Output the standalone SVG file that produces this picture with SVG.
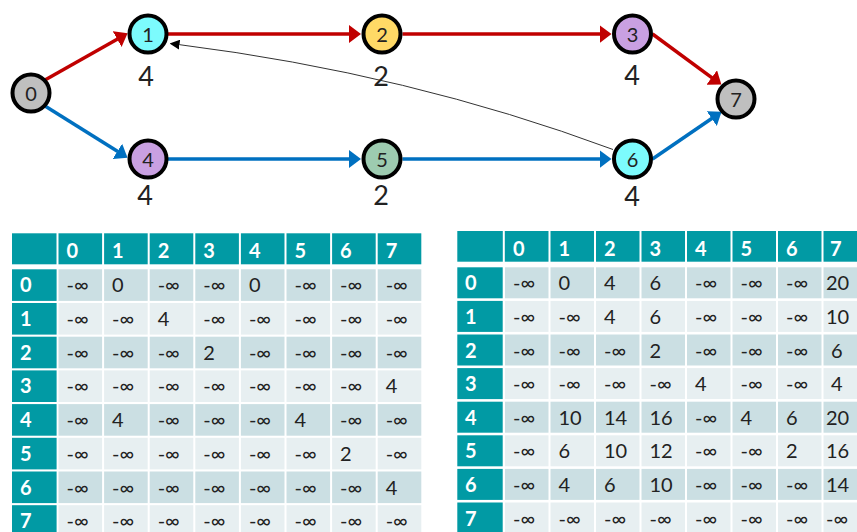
<svg xmlns="http://www.w3.org/2000/svg" width="857" height="532" viewBox="0 0 857 532">
<style>
.nd{stroke:#000;stroke-width:4}
.nl{font-family:Lato,"Liberation Sans",sans-serif;font-size:20px;fill:#222;text-anchor:middle}
.wl{font-family:Lato,"Liberation Sans",sans-serif;font-size:27px;fill:#222;text-anchor:middle}
.red{stroke:#C00000;stroke-width:3.5;fill:none}
.blue{stroke:#0070C0;stroke-width:3.5;fill:none}
.thin{stroke:#333;stroke-width:1;fill:none}
.teal{fill:#019AA4}
.ev{fill:#CBDFE3}
.od{fill:#E7EFF1}
.gap{stroke:#fff;stroke-width:2}
.h{font-family:Lato,"Liberation Sans",sans-serif;font-size:20px;font-weight:bold;fill:#fff}
.d{font-family:Lato,"Liberation Sans",sans-serif;font-size:20px;fill:#222}
</style>
<defs>
<marker id="ar" markerUnits="userSpaceOnUse" viewBox="0 0 12 18" markerWidth="12" markerHeight="18" refX="0.5" refY="9" orient="auto"><path d="M0,0 L12,9 L0,18 z" fill="#C00000"/></marker>
<marker id="ab" markerUnits="userSpaceOnUse" viewBox="0 0 12 18" markerWidth="12" markerHeight="18" refX="0.5" refY="9" orient="auto"><path d="M0,0 L12,9 L0,18 z" fill="#0070C0"/></marker>
<marker id="ak" markerUnits="userSpaceOnUse" viewBox="0 0 10 10" markerWidth="10" markerHeight="10" refX="0.5" refY="5" orient="auto"><path d="M0,0 L10,5 L0,10 z" fill="#000"/></marker>
</defs>
<rect width="857" height="532" fill="#fff"/>
<g id="connectors">
<path class="red" d="M45,80 L117.6,38.9" marker-end="url(#ar)"/>
<path class="red" d="M166.5,34 L349.5,34" marker-end="url(#ar)"/>
<path class="red" d="M402.5,34 L600,34" marker-end="url(#ar)"/>
<path class="red" d="M652.5,34 L712.1,77.8" marker-end="url(#ar)"/>
<path class="blue" d="M45,106 L117.8,151.6" marker-end="url(#ab)"/>
<path class="blue" d="M166.5,159 L349.5,159" marker-end="url(#ab)"/>
<path class="blue" d="M402.5,159 L600,159" marker-end="url(#ab)"/>
<path class="blue" d="M652.5,159 L712.1,118.3" marker-end="url(#ab)"/>
<path class="thin" d="M613,149.5 Q409,73.6 179,44.6" marker-end="url(#ak)"/>
</g>
<g id="node0"><circle class="nd" cx="31" cy="93" r="18.5" fill="#BFBFBF"/><text class="nl" x="31" y="100.5">0</text></g>
<g id="node1"><circle class="nd" cx="148" cy="34" r="18.5" fill="#7CFBFD"/><text class="nl" x="148" y="41.5">1</text><text class="wl" x="146" y="86">4</text></g>
<g id="node2"><circle class="nd" cx="382" cy="34" r="18.5" fill="#FFD966"/><text class="nl" x="382" y="41.5">2</text><text class="wl" x="381" y="86">2</text></g>
<g id="node3"><circle class="nd" cx="632.5" cy="34" r="18.5" fill="#C9A0E2"/><text class="nl" x="632.5" y="41.5">3</text><text class="wl" x="632" y="85">4</text></g>
<g id="node4"><circle class="nd" cx="148" cy="159" r="18.5" fill="#C9A0E2"/><text class="nl" x="148" y="166.5">4</text><text class="wl" x="145" y="204.5">4</text></g>
<g id="node5"><circle class="nd" cx="382" cy="159" r="18.5" fill="#9DCBB0"/><text class="nl" x="382" y="166.5">5</text><text class="wl" x="381" y="205">2</text></g>
<g id="node6"><circle class="nd" cx="632.5" cy="159" r="18.5" fill="#7CFBFD"/><text class="nl" x="632.5" y="166.5">6</text><text class="wl" x="632" y="206">4</text></g>
<g id="node7"><circle class="nd" cx="736" cy="99" r="18.5" fill="#BFBFBF"/><text class="nl" x="736" y="106.5">7</text></g>

<g id="table-left">
<rect class="teal" x="12" y="233.3" width="409.3" height="31"/>
<rect class="teal" x="12" y="269.3" width="44.6" height="31.6"/><rect class="ev" x="58.5" y="269.3" width="362.8" height="31.6"/>
<rect class="teal" x="12" y="303" width="44.6" height="31.6"/><rect class="od" x="58.5" y="303" width="362.8" height="31.6"/>
<rect class="teal" x="12" y="336.7" width="44.6" height="31.6"/><rect class="ev" x="58.5" y="336.7" width="362.8" height="31.6"/>
<rect class="teal" x="12" y="370.4" width="44.6" height="31.6"/><rect class="od" x="58.5" y="370.4" width="362.8" height="31.6"/>
<rect class="teal" x="12" y="404.1" width="44.6" height="31.6"/><rect class="ev" x="58.5" y="404.1" width="362.8" height="31.6"/>
<rect class="teal" x="12" y="437.8" width="44.6" height="31.6"/><rect class="od" x="58.5" y="437.8" width="362.8" height="31.6"/>
<rect class="teal" x="12" y="471.5" width="44.6" height="31.6"/><rect class="ev" x="58.5" y="471.5" width="362.8" height="31.6"/>
<rect class="teal" x="12" y="505.2" width="44.6" height="31.6"/><rect class="od" x="58.5" y="505.2" width="362.8" height="31.6"/>
<g class="gap">
<line x1="57.5" y1="233" x2="57.5" y2="265"/>
<line x1="103.1" y1="233" x2="103.1" y2="532"/><line x1="148.7" y1="233" x2="148.7" y2="532"/><line x1="194.3" y1="233" x2="194.3" y2="532"/><line x1="239.9" y1="233" x2="239.9" y2="532"/><line x1="285.5" y1="233" x2="285.5" y2="532"/><line x1="331.1" y1="233" x2="331.1" y2="532"/><line x1="376.7" y1="233" x2="376.7" y2="532"/>
</g>
<g class="h">
<text x="66.5" y="258.3">0</text><text x="112.1" y="258.3">1</text><text x="157.7" y="258.3">2</text><text x="203.3" y="258.3">3</text><text x="248.9" y="258.3">4</text><text x="294.5" y="258.3">5</text><text x="340.1" y="258.3">6</text><text x="385.7" y="258.3">7</text>
<text x="20" y="292.3">0</text><text x="20" y="326">1</text><text x="20" y="359.7">2</text><text x="20" y="393.4">3</text><text x="20" y="427.1">4</text><text x="20" y="460.8">5</text><text x="20" y="494.5">6</text><text x="20" y="528.2">7</text>
</g>
<g class="d">
<g transform="translate(0,292.3)"><text x="66.5">-∞</text><text x="112.1">0</text><text x="157.7">-∞</text><text x="203.3">-∞</text><text x="248.9">0</text><text x="294.5">-∞</text><text x="340.1">-∞</text><text x="385.7">-∞</text></g>
<g transform="translate(0,326)"><text x="66.5">-∞</text><text x="112.1">-∞</text><text x="157.7">4</text><text x="203.3">-∞</text><text x="248.9">-∞</text><text x="294.5">-∞</text><text x="340.1">-∞</text><text x="385.7">-∞</text></g>
<g transform="translate(0,359.7)"><text x="66.5">-∞</text><text x="112.1">-∞</text><text x="157.7">-∞</text><text x="203.3">2</text><text x="248.9">-∞</text><text x="294.5">-∞</text><text x="340.1">-∞</text><text x="385.7">-∞</text></g>
<g transform="translate(0,393.4)"><text x="66.5">-∞</text><text x="112.1">-∞</text><text x="157.7">-∞</text><text x="203.3">-∞</text><text x="248.9">-∞</text><text x="294.5">-∞</text><text x="340.1">-∞</text><text x="385.7">4</text></g>
<g transform="translate(0,427.1)"><text x="66.5">-∞</text><text x="112.1">4</text><text x="157.7">-∞</text><text x="203.3">-∞</text><text x="248.9">-∞</text><text x="294.5">4</text><text x="340.1">-∞</text><text x="385.7">-∞</text></g>
<g transform="translate(0,460.8)"><text x="66.5">-∞</text><text x="112.1">-∞</text><text x="157.7">-∞</text><text x="203.3">-∞</text><text x="248.9">-∞</text><text x="294.5">-∞</text><text x="340.1">2</text><text x="385.7">-∞</text></g>
<g transform="translate(0,494.5)"><text x="66.5">-∞</text><text x="112.1">-∞</text><text x="157.7">-∞</text><text x="203.3">-∞</text><text x="248.9">-∞</text><text x="294.5">-∞</text><text x="340.1">-∞</text><text x="385.7">4</text></g>
<g transform="translate(0,528.2)"><text x="66.5">-∞</text><text x="112.1">-∞</text><text x="157.7">-∞</text><text x="203.3">-∞</text><text x="248.9">-∞</text><text x="294.5">-∞</text><text x="340.1">-∞</text><text x="385.7">-∞</text></g>
</g>
</g>

<g id="table-right">
<rect class="teal" x="457.3" y="231" width="400" height="30.7"/>
<rect class="teal" x="457.3" y="267.3" width="45.4" height="31"/><rect class="ev" x="505" y="267.3" width="352" height="31"/>
<rect class="teal" x="457.3" y="300.9" width="45.4" height="31"/><rect class="od" x="505" y="300.9" width="352" height="31"/>
<rect class="teal" x="457.3" y="334.5" width="45.4" height="31"/><rect class="ev" x="505" y="334.5" width="352" height="31"/>
<rect class="teal" x="457.3" y="368.1" width="45.4" height="31"/><rect class="od" x="505" y="368.1" width="352" height="31"/>
<rect class="teal" x="457.3" y="401.7" width="45.4" height="31"/><rect class="ev" x="505" y="401.7" width="352" height="31"/>
<rect class="teal" x="457.3" y="435.3" width="45.4" height="31"/><rect class="od" x="505" y="435.3" width="352" height="31"/>
<rect class="teal" x="457.3" y="468.9" width="45.4" height="31"/><rect class="ev" x="505" y="468.9" width="352" height="31"/>
<rect class="teal" x="457.3" y="502.5" width="45.4" height="31"/><rect class="od" x="505" y="502.5" width="352" height="31"/>
<g class="gap">
<line x1="503.8" y1="231" x2="503.8" y2="262"/>
<line x1="549.5" y1="231" x2="549.5" y2="532"/><line x1="595" y1="231" x2="595" y2="532"/><line x1="640.5" y1="231" x2="640.5" y2="532"/><line x1="686" y1="231" x2="686" y2="532"/><line x1="731.5" y1="231" x2="731.5" y2="532"/><line x1="777" y1="231" x2="777" y2="532"/><line x1="822.5" y1="231" x2="822.5" y2="532"/>
</g>
<g class="h">
<text x="513" y="256">0</text><text x="558.5" y="256">1</text><text x="604" y="256">2</text><text x="649.5" y="256">3</text><text x="695" y="256">4</text><text x="740.5" y="256">5</text><text x="786" y="256">6</text><text x="830" y="256">7</text>
<text x="465" y="290.3">0</text><text x="465" y="323.9">1</text><text x="465" y="357.5">2</text><text x="465" y="391.1">3</text><text x="465" y="424.7">4</text><text x="465" y="458.3">5</text><text x="465" y="491.9">6</text><text x="465" y="525.5">7</text>
</g>
<g class="d">
<g transform="translate(0,290.3)"><text x="513">-∞</text><text x="558.5">0</text><text x="604">4</text><text x="649.5">6</text><text x="695">-∞</text><text x="740.5">-∞</text><text x="786">-∞</text><text x="826">20</text></g>
<g transform="translate(0,323.9)"><text x="513">-∞</text><text x="558.5">-∞</text><text x="604">4</text><text x="649.5">6</text><text x="695">-∞</text><text x="740.5">-∞</text><text x="786">-∞</text><text x="826">10</text></g>
<g transform="translate(0,357.5)"><text x="513">-∞</text><text x="558.5">-∞</text><text x="604">-∞</text><text x="649.5">2</text><text x="695">-∞</text><text x="740.5">-∞</text><text x="786">-∞</text><text x="831">6</text></g>
<g transform="translate(0,391.1)"><text x="513">-∞</text><text x="558.5">-∞</text><text x="604">-∞</text><text x="649.5">-∞</text><text x="695">4</text><text x="740.5">-∞</text><text x="786">-∞</text><text x="831">4</text></g>
<g transform="translate(0,424.7)"><text x="513">-∞</text><text x="558.5">10</text><text x="604">14</text><text x="649.5">16</text><text x="695">-∞</text><text x="740.5">4</text><text x="786">6</text><text x="826">20</text></g>
<g transform="translate(0,458.3)"><text x="513">-∞</text><text x="558.5">6</text><text x="604">10</text><text x="649.5">12</text><text x="695">-∞</text><text x="740.5">-∞</text><text x="786">2</text><text x="826">16</text></g>
<g transform="translate(0,491.9)"><text x="513">-∞</text><text x="558.5">4</text><text x="604">6</text><text x="649.5">10</text><text x="695">-∞</text><text x="740.5">-∞</text><text x="786">-∞</text><text x="826">14</text></g>
<g transform="translate(0,525.5)"><text x="513">-∞</text><text x="558.5">-∞</text><text x="604">-∞</text><text x="649.5">-∞</text><text x="695">-∞</text><text x="740.5">-∞</text><text x="786">-∞</text><text x="826">-∞</text></g>
</g>
</g>
</svg>
